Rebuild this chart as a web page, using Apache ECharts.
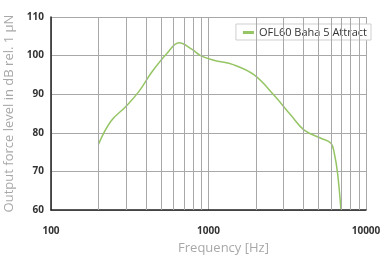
<!DOCTYPE html>
<html>
<head>
<meta charset="utf-8">
<script src="https://cdn.jsdelivr.net/npm/echarts@6/dist/echarts.min.js"></script>
<style>html,body{margin:0;padding:0;background:#fff}#c{width:381px;height:257px}</style>
</head>
<body>
<div id="c"></div>
<script>
var seriesName = 'OFL60 Baha 5 Attract';
var freqs = [200, 240, 300, 360, 438, 546, 650, 787, 890, 1080, 1450, 1950, 2600, 3330, 4050, 5170, 5990, 6290, 6600, 6930];
var levels = [77.0, 83.0, 86.9, 90.6, 95.8, 100.6, 103.3, 101.6, 100.0, 98.8, 97.6, 95.0, 89.8, 84.6, 80.7, 78.6, 77.3, 74.7, 69.5, 60.2];
var minorGrid = [200, 300, 400, 500, 600, 700, 800, 900, 2000, 3000, 4000, 5000, 6000, 7000, 8000, 9000];
var xTitle = 'Frequency [Hz]';
var yTitle = 'Output force level in dB rel. 1 µN';

var chart = echarts.init(document.getElementById('c'), null, {renderer: 'canvas'});
var font = '"Open Sans", "Noto Sans", sans-serif';
chart.setOption({
  animation: false,
  backgroundColor: '#fff',
  grid: {left: 51, right: 15, top: 17, bottom: 47, containLabel: false, outerBoundsMode: 'none'},
  legend: {
    data: [{name: seriesName, icon: 'rect'}],
    right: 10, top: 24,
    backgroundColor: '#fff',
    borderColor: '#cfcfcf', borderWidth: 1, borderRadius: 0,
    padding: [3, 4, 2, 7],
    itemWidth: 11, itemHeight: 3, itemGap: 5,
    textStyle: {fontFamily: font, fontSize: 11, color: '#333'}
  },
  xAxis: {
    type: 'log', logBase: 10, min: 100, max: 10000,
    name: xTitle, nameLocation: 'middle', nameGap: 32,
    nameTextStyle: {fontFamily: font, fontSize: 13, color: '#a8a8a8', padding: [0, 0, 0, 30]},
    axisLine: {show: true, lineStyle: {color: '#222', width: 1.5}},
    axisTick: {show: false},
    axisLabel: {fontFamily: font, fontSize: 10, fontWeight: 'bold', color: '#333', margin: 16,
      formatter: function (v) { return String(v); }},
    splitLine: {show: true, lineStyle: {color: '#a8a8a8', width: 1}},
    minorTick: {show: false}, minorSplitLine: {show: false}
  },
  yAxis: {
    type: 'value', min: 60, max: 110, interval: 10,
    name: yTitle, nameLocation: 'middle', nameGap: 21, nameRotate: 90,
    nameTextStyle: {fontFamily: font, fontSize: 13, color: '#a8a8a8'},
    axisLine: {show: true, lineStyle: {color: '#222', width: 1.5}},
    axisTick: {show: false},
    axisLabel: {fontFamily: font, fontSize: 10, fontWeight: 'bold', color: '#333', margin: 7},
    splitLine: {show: true, lineStyle: {color: '#a8a8a8', width: 1}}
  },
  series: [{
    name: seriesName,
    type: 'line',
    smooth: 0.4,
    symbol: 'none',
    color: '#96c566',
    lineStyle: {width: 1.5, color: '#96c566'},
    data: freqs.map(function (f, i) { return [f, levels[i]]; }),
    markLine: {
      silent: true, symbol: 'none', label: {show: false},
      lineStyle: {color: '#a8a8a8', width: 1, type: 'solid'},
      data: minorGrid.map(function (v) { return {xAxis: v}; })
    },
    z: 3
  }]
});
</script>
</body>
</html>
